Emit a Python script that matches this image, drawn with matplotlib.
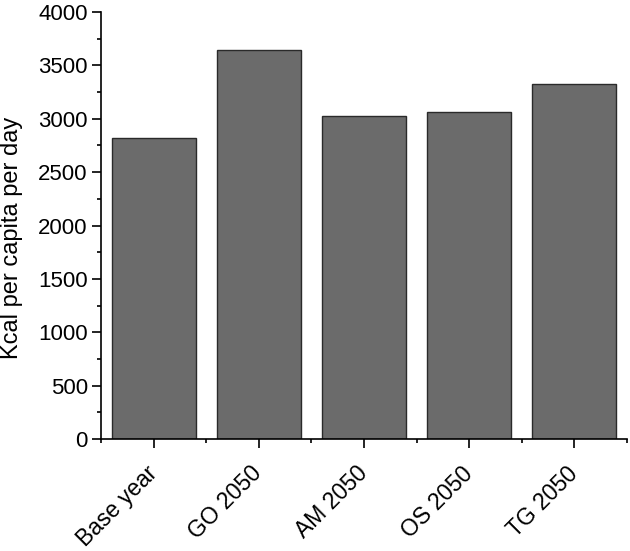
import matplotlib
matplotlib.use("Agg")
import matplotlib.pyplot as plt
import matplotlib.transforms as mtransforms
from matplotlib.ticker import MultipleLocator, FixedLocator

plt.rcParams['font.family'] = ['Liberation Sans', 'DejaVu Sans']

# Data
categories = ['Base year', 'GO 2050', 'AM 2050', 'OS 2050', 'TG 2050']
kcal = [2820, 3640, 3025, 3065, 3325]

fig = plt.figure(figsize=(6.3, 5.51), dpi=100)
ax = fig.add_axes([101 / 630, 1 - 439 / 551, 526 / 630, 427 / 551])

x = list(range(len(categories)))
ax.bar(x, kcal, width=0.8, color='#6b6b6b', edgecolor='#2a2a2a', linewidth=1.0)

ax.set_xlim(-0.5, len(categories) - 0.5)
ax.set_ylim(0, 4000)
ax.yaxis.set_major_locator(MultipleLocator(500))
ax.yaxis.set_minor_locator(MultipleLocator(250))
ax.set_xticks(x)
ax.set_xticklabels(categories, rotation=45, ha='right', rotation_mode='anchor')
ax.xaxis.set_minor_locator(FixedLocator([i + 0.5 for i in range(-1, len(categories))]))

ax.spines['top'].set_visible(False)
ax.spines['right'].set_visible(False)
ax.tick_params(axis='both', which='major', direction='out', length=6.5, width=1.2, labelsize=16)
ax.tick_params(axis='x', which='major', labelsize=16.5)
ax.tick_params(axis='both', which='minor', direction='out', length=3, width=1.2)
ax.tick_params(axis='x', which='major', pad=10)
ax.tick_params(axis='y', which='major', pad=3)
for s in ['left', 'bottom']:
    ax.spines[s].set_linewidth(1.2)

# nudge rotated category labels a little to the left
offset = mtransforms.ScaledTranslation(-6 / 72, 0, fig.dpi_scale_trans)
for lab in ax.get_xticklabels():
    lab.set_transform(lab.get_transform() + offset)

ax.set_ylabel('Kcal per capita per day', fontsize=17)
ax.yaxis.set_label_coords(-0.148, 0.472)

fig.savefig('out.png', dpi=100)
